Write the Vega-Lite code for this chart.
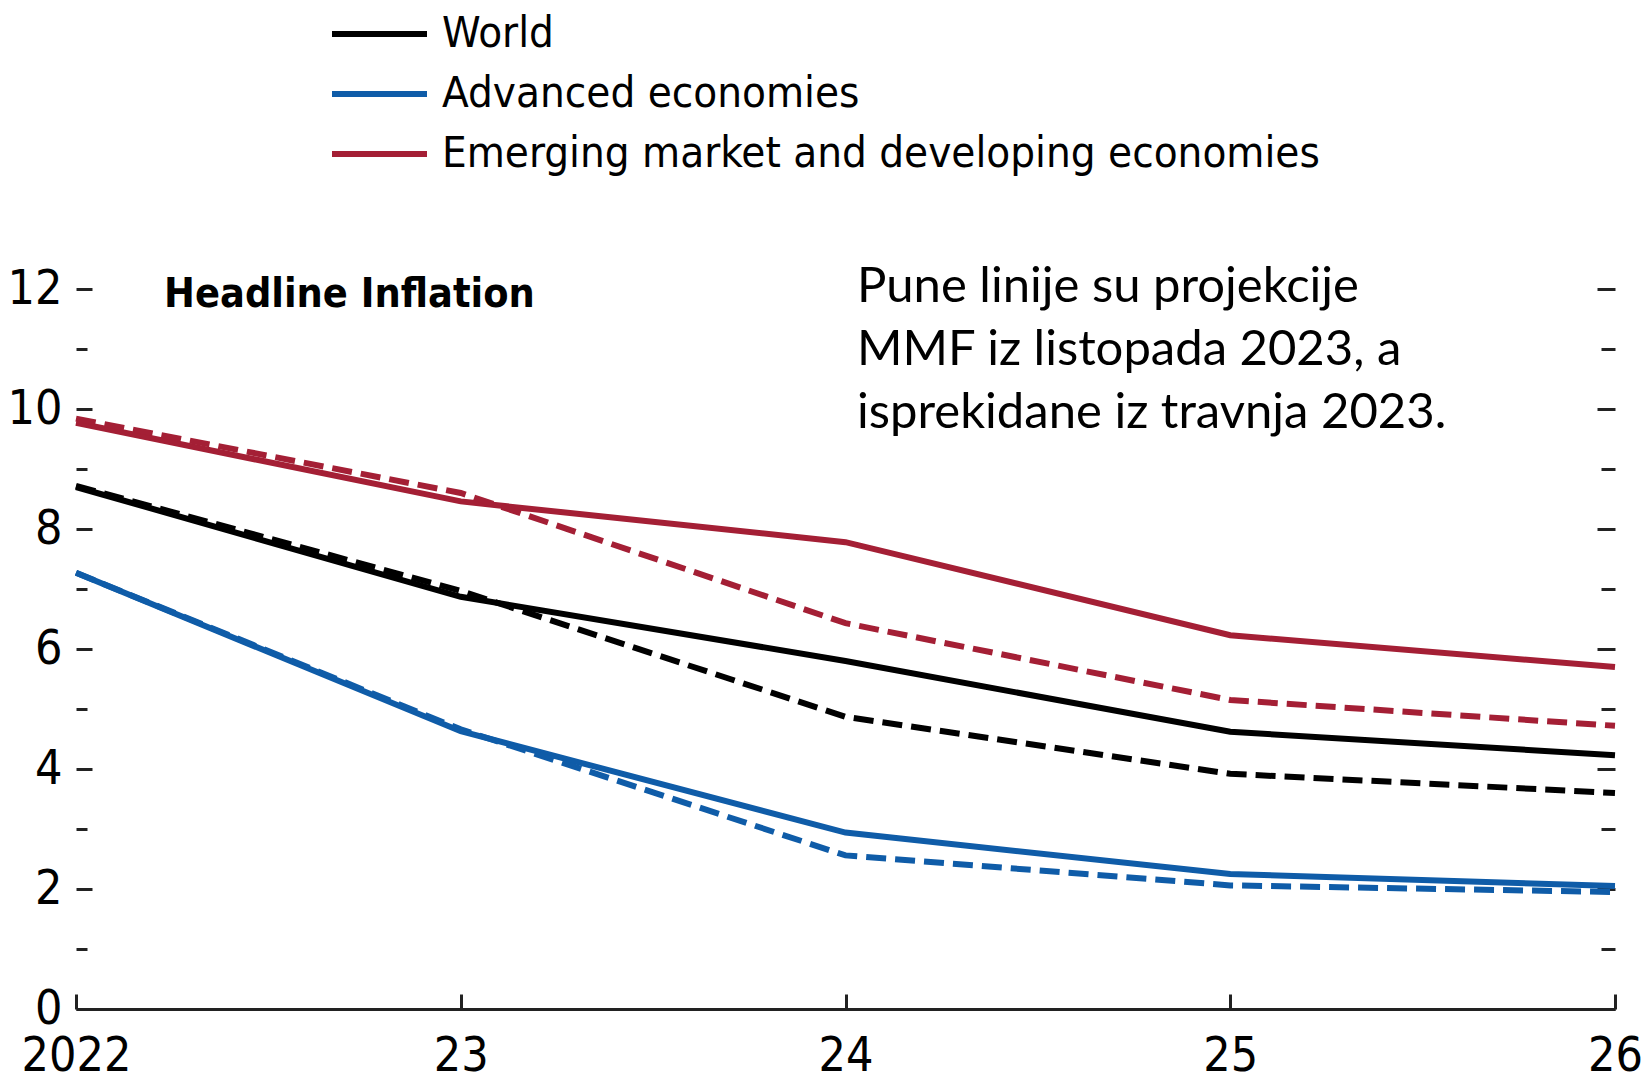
{
  "$schema": "https://vega.github.io/schema/vega-lite/v6.json",
  "width": 1539,
  "height": 720,
  "autosize": "none",
  "padding": {"left": 76, "top": 289, "right": 27, "bottom": 67},
  "background": "white",
  "config": {"view": {"stroke": null}, "font": "DejaVu Sans Condensed"},
  "datasets": {
    "inflation": [
      {"series": "World", "vintage": "October 2023", "year": 2022, "value": 8.7},
      {"series": "World", "vintage": "October 2023", "year": 2023, "value": 6.87},
      {"series": "World", "vintage": "October 2023", "year": 2024, "value": 5.8},
      {"series": "World", "vintage": "October 2023", "year": 2025, "value": 4.62},
      {"series": "World", "vintage": "October 2023", "year": 2026, "value": 4.23},
      {"series": "World", "vintage": "April 2023", "year": 2022, "value": 8.72},
      {"series": "World", "vintage": "April 2023", "year": 2023, "value": 6.97},
      {"series": "World", "vintage": "April 2023", "year": 2024, "value": 4.87},
      {"series": "World", "vintage": "April 2023", "year": 2025, "value": 3.92},
      {"series": "World", "vintage": "April 2023", "year": 2026, "value": 3.6},
      {"series": "Advanced economies", "vintage": "October 2023", "year": 2022, "value": 7.27},
      {"series": "Advanced economies", "vintage": "October 2023", "year": 2023, "value": 4.63},
      {"series": "Advanced economies", "vintage": "October 2023", "year": 2024, "value": 2.94},
      {"series": "Advanced economies", "vintage": "October 2023", "year": 2025, "value": 2.25},
      {"series": "Advanced economies", "vintage": "October 2023", "year": 2026, "value": 2.05},
      {"series": "Advanced economies", "vintage": "April 2023", "year": 2022, "value": 7.27},
      {"series": "Advanced economies", "vintage": "April 2023", "year": 2023, "value": 4.66},
      {"series": "Advanced economies", "vintage": "April 2023", "year": 2024, "value": 2.56},
      {"series": "Advanced economies", "vintage": "April 2023", "year": 2025, "value": 2.06},
      {"series": "Advanced economies", "vintage": "April 2023", "year": 2026, "value": 1.95},
      {"series": "Emerging market and developing economies", "vintage": "October 2023", "year": 2022, "value": 9.77},
      {"series": "Emerging market and developing economies", "vintage": "October 2023", "year": 2023, "value": 8.46},
      {"series": "Emerging market and developing economies", "vintage": "October 2023", "year": 2024, "value": 7.78},
      {"series": "Emerging market and developing economies", "vintage": "October 2023", "year": 2025, "value": 6.23},
      {"series": "Emerging market and developing economies", "vintage": "October 2023", "year": 2026, "value": 5.7},
      {"series": "Emerging market and developing economies", "vintage": "April 2023", "year": 2022, "value": 9.84},
      {"series": "Emerging market and developing economies", "vintage": "April 2023", "year": 2023, "value": 8.6},
      {"series": "Emerging market and developing economies", "vintage": "April 2023", "year": 2024, "value": 6.43},
      {"series": "Emerging market and developing economies", "vintage": "April 2023", "year": 2025, "value": 5.15},
      {"series": "Emerging market and developing economies", "vintage": "April 2023", "year": 2026, "value": 4.72}
    ],
    "title": [
      {"year": 2022.229, "value": 11.7, "label": "Headline Inflation"}
    ],
    "note": [
      {"year": 2024.03, "value": 11.78, "label": ["Pune linije su projekcije", "MMF iz listopada 2023, a", "isprekidane iz travnja 2023."]}
    ]
  },
  "layer": [
    {
      "data": {"name": "inflation"},
      "transform": [{"filter": "datum.vintage == 'October 2023'"}],
      "mark": {"type": "line", "strokeWidth": 6, "clip": false},
      "encoding": {
        "x": {
          "field": "year", "type": "quantitative",
          "scale": {"domain": [2022, 2026], "nice": false, "zero": false},
          "axis": {
            "title": null, "grid": false,
            "values": [2022, 2023, 2024, 2025, 2026],
            "labelExpr": "datum.value == 2022 ? '2022' : '' + (datum.value - 2000)",
            "tickSize": -15, "tickWidth": 3, "tickColor": "#222",
            "domainColor": "#222", "domainWidth": 3,
            "labelFont": "DejaVu Sans Condensed", "labelFontSize": 48, "labelColor": "black",
            "labelPadding": 38, "labelFlush": false, "labelOverlap": false, "labelBaseline": "top"
          }
        },
        "y": {
          "field": "value", "type": "quantitative",
          "scale": {"domain": [0, 12], "nice": false},
          "axis": {
            "orient": "left", "title": null, "grid": false, "domain": false,
            "values": [0, 1, 2, 3, 4, 5, 6, 7, 8, 9, 10, 11, 12],
            "labelExpr": "datum.value % 2 == 0 ? datum.label : ''",
            "tickSize": {"condition": {"test": "datum.value % 2 == 0", "value": -16}, "value": -11},
            "tickWidth": 3, "tickColor": "#222",
            "labelFont": "DejaVu Sans Condensed", "labelFontSize": 48, "labelColor": "black",
            "labelPadding": 30, "labelOverlap": false, "labelFlush": false
          }
        },
        "color": {
          "field": "series", "type": "nominal",
          "scale": {
            "domain": ["World", "Advanced economies", "Emerging market and developing economies"],
            "range": ["#000000", "#0f5ca8", "#a41f35"]
          },
          "legend": {
            "orient": "none", "legendX": 281.5, "legendY": -277, "title": null,
            "symbolType": "M-2.5,0H2.5", "symbolSize": 1444, "symbolStrokeWidth": 6,
            "labelFont": "DejaVu Sans Condensed", "labelFontSize": 43.5, "labelColor": "black",
            "labelLimit": 1500, "labelOffset": 40.5, "rowPadding": 16, "padding": 0
          }
        }
      }
    },
    {
      "data": {"name": "inflation"},
      "transform": [{"filter": "datum.vintage == 'April 2023'"}],
      "mark": {"type": "line", "strokeWidth": 6, "strokeDash": [20, 9], "clip": false},
      "encoding": {
        "x": {"field": "year", "type": "quantitative"},
        "y": {
          "field": "value", "type": "quantitative",
          "axis": {
            "orient": "right", "title": null, "grid": false, "domain": false, "labels": false,
            "values": [0, 1, 2, 3, 4, 5, 6, 7, 8, 9, 10, 11, 12],
            "tickSize": {"condition": {"test": "datum.value % 2 == 0", "value": -18}, "value": -14},
            "tickWidth": 3, "tickColor": "#222"
          }
        },
        "color": {"field": "series", "type": "nominal", "legend": null}
      }
    },
    {
      "data": {"name": "title"},
      "mark": {"type": "text", "align": "left", "baseline": "alphabetic", "font": "DejaVu Sans Condensed", "fontWeight": "bold", "fontSize": 41, "color": "black"},
      "encoding": {
        "x": {"field": "year", "type": "quantitative"},
        "y": {"field": "value", "type": "quantitative", "axis": null},
        "text": {"field": "label"}
      }
    },
    {
      "data": {"name": "note"},
      "mark": {"type": "text", "align": "left", "baseline": "alphabetic", "font": "Lato", "fontSize": 49, "lineHeight": 63, "color": "black"},
      "encoding": {
        "x": {"field": "year", "type": "quantitative"},
        "y": {"field": "value", "type": "quantitative", "axis": null},
        "text": {"field": "label"}
      }
    }
  ],
  "resolve": {"axis": {"y": "independent"}}
}
